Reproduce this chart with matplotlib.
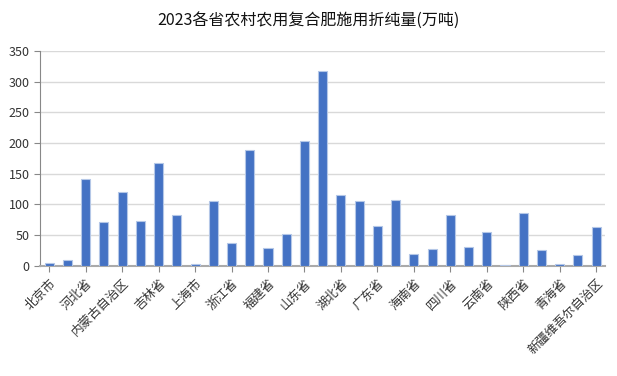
import matplotlib
matplotlib.use("Agg")
import matplotlib.pyplot as plt
import numpy as np

plt.rcParams['font.family'] = ['Noto Sans CJK SC', 'DejaVu Sans']

# data
provinces = ["北京市", "天津市", "河北省", "山西省", "内蒙古自治区", "辽宁省", "吉林省",
             "黑龙江省", "上海市", "江苏省", "浙江省", "安徽省", "福建省", "江西省",
             "山东省", "河南省", "湖北省", "湖南省", "广东省", "广西壮族自治区", "海南省",
             "重庆市", "四川省", "贵州省", "云南省", "西藏自治区", "陕西省", "甘肃省",
             "青海省", "宁夏回族自治区", "新疆维吾尔自治区"]
values = [4.4, 8.7, 141, 70.8, 119.8, 72.4, 168.2, 82.7, 3.8, 105, 37.6, 188.9,
          28.3, 51.7, 203.6, 317.4, 115.4, 105.6, 64.8, 107.2, 18.5, 26.7, 82.7,
          29.9, 55, 1.0, 86, 25.6, 2.7, 16.9, 63.1]
title = "2023各省农村农用复合肥施用折纯量(万吨)"

fig = plt.figure(figsize=(6.17, 3.76), dpi=100)
ax = fig.add_axes([0.065, 0.293, 0.916, 0.571])

x = np.arange(len(provinces))
ax.bar(x, values, width=0.5, color="#4472C4", edgecolor="#b4c7e7", linewidth=0.8, zorder=3)

ax.set_xlim(-0.5, len(provinces) - 0.5)
ax.set_ylim(0, 350)
ax.set_yticks(np.arange(0, 351, 50))
ax.yaxis.grid(True, color="#d9d9d9", linewidth=1, zorder=0)

ax.set_xticks(x[::2])
ax.set_xticklabels(provinces[::2], rotation=45, ha="right", rotation_mode="anchor", fontsize=9)
ax.tick_params(axis="y", labelsize=9, length=4, color="#888888", colors="#333333")
ax.tick_params(axis="x", length=4, color="#888888", colors="#333333")

for s in ["top", "right"]:
    ax.spines[s].set_visible(False)
ax.spines["left"].set_color("#888888")
ax.spines["bottom"].set_color("#aaaaaa")
ax.spines["bottom"].set_linewidth(1.5)

fig.text(0.5, 0.945, title, ha="center", va="center", fontsize=11.5, color="#111111")

fig.savefig("out.png", dpi=100)
